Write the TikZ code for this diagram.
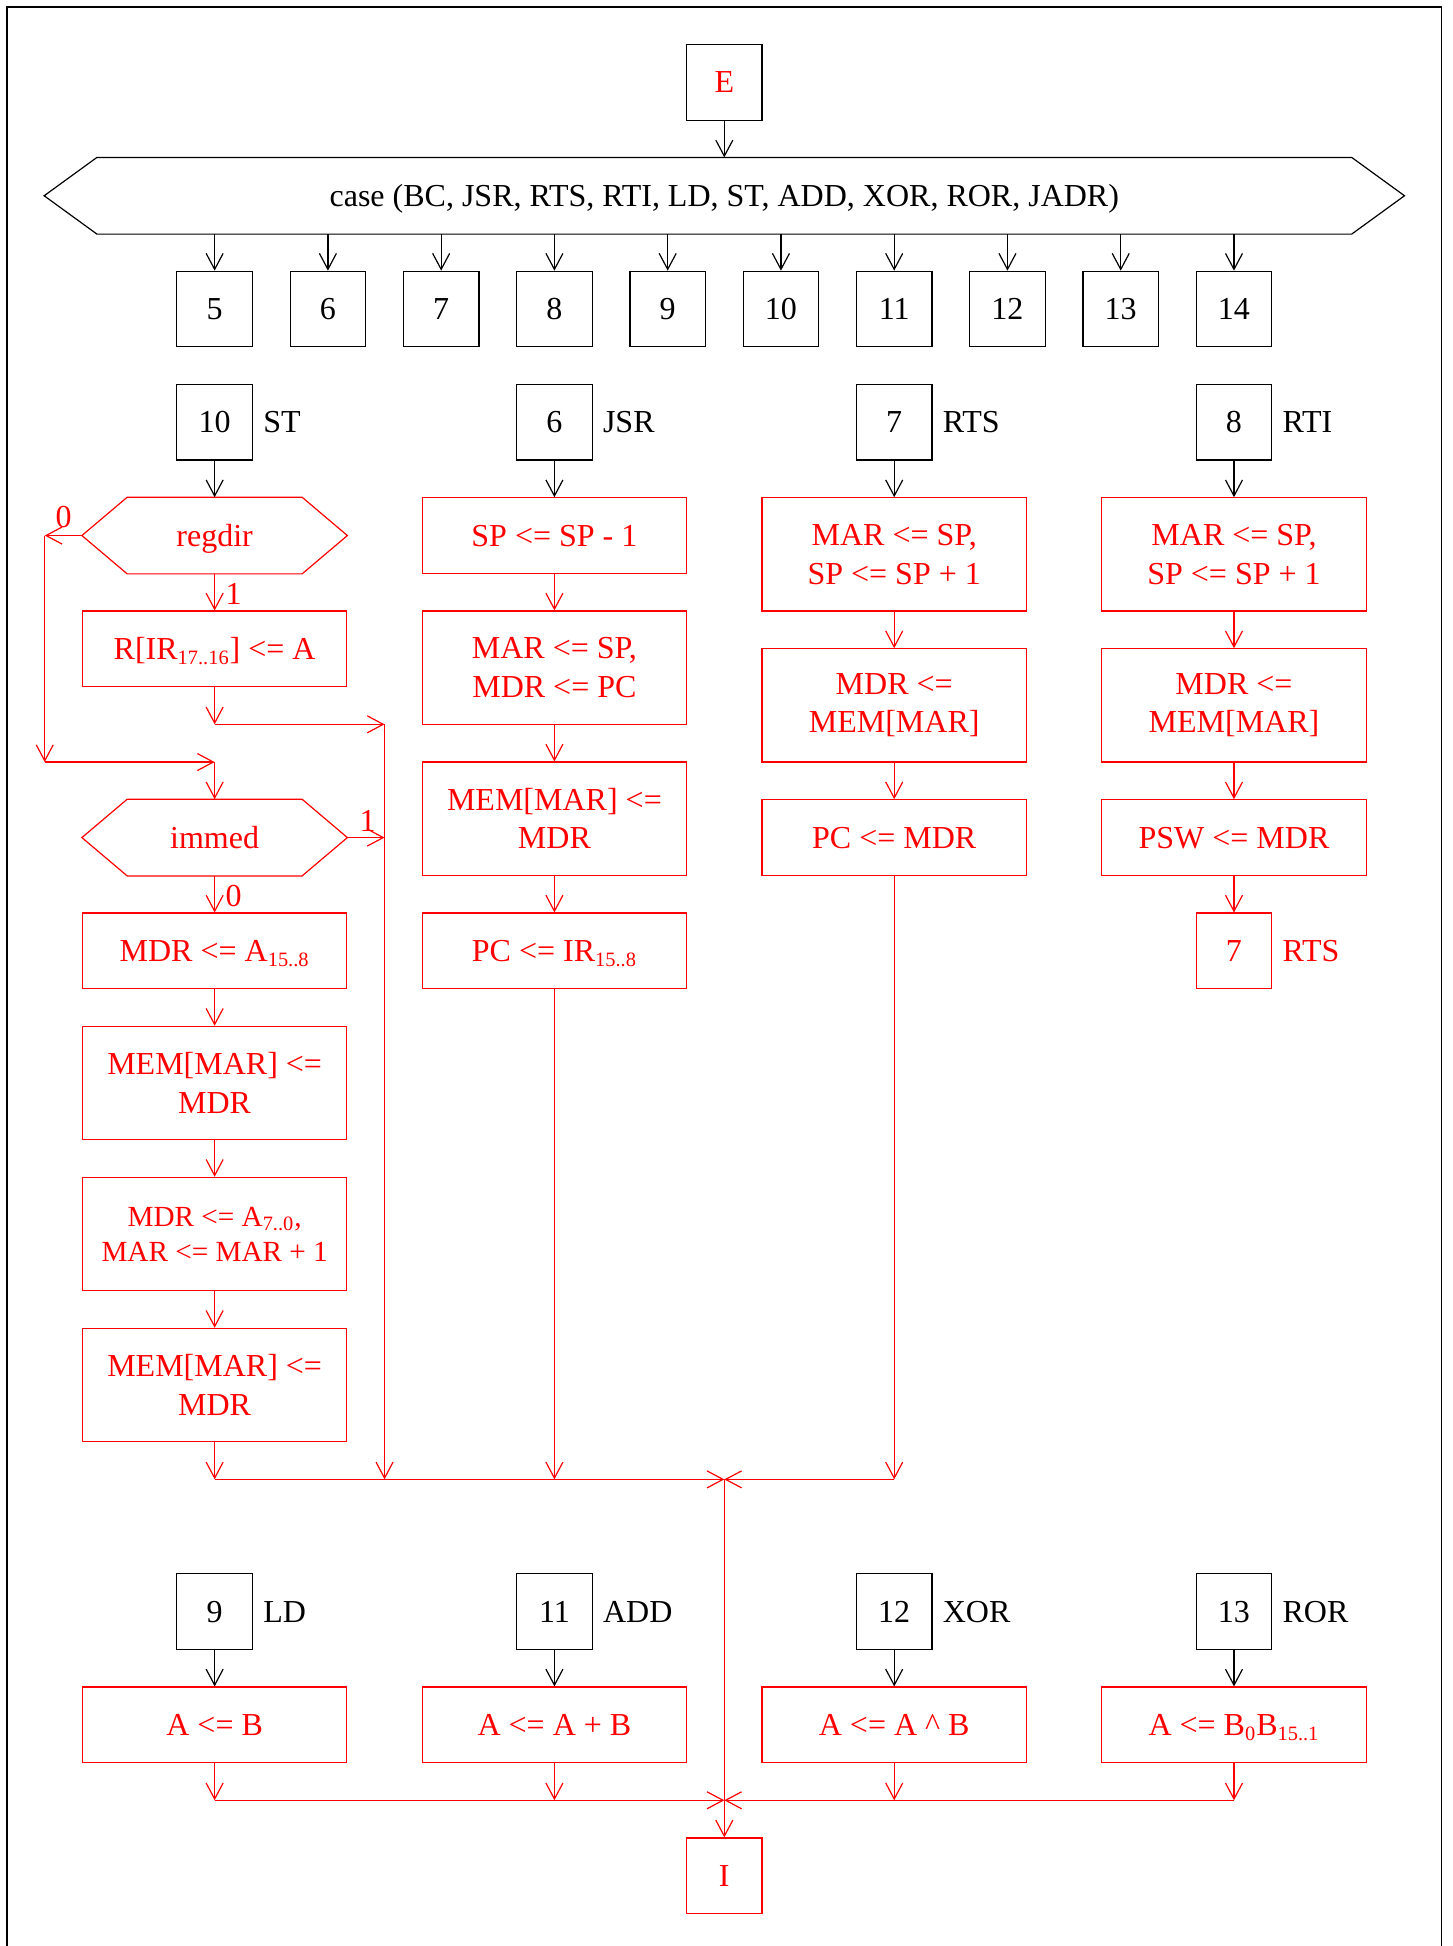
\documentclass[tikz,border=0pt]{standalone}
\usepackage{fontspec}
\setmainfont{Liberation Serif}
\usetikzlibrary{arrows.meta,positioning}

\newcommand{\hexshape}[3]{\draw[#1] (#2.west) -- ([xshift=#3]#2.north west) -- ([xshift=-#3]#2.north east) -- (#2.east) -- ([xshift=-#3]#2.south east) -- ([xshift=#3]#2.south west) -- cycle;}
\newcommand{\subtxt}[1]{\textsubscript{\fontsize{10.2}{12}\selectfont #1}}

\begin{document}
\begin{tikzpicture}[x=18.875pt,y=-18.875pt,line width=0.6pt,
  font=\fontsize{16}{19.2}\selectfont,
  arr/.style={-{Straight Barb[length=8pt,width=8.5pt]}},
  rarr/.style={arr,draw=red},
  onel/.style={text height=10.5pt,text depth=0pt},
  sbox/.style={draw,onel,minimum width=37.75pt,minimum height=37.75pt,inner sep=0pt},
  rsbox/.style={sbox,draw=red,text=red},
  bbox/.style={draw=red,text=red,align=center,minimum width=132.125pt,inner sep=0pt},
  wbox/.style={bbox,onel,minimum height=37.75pt},
  tbox/.style={bbox,minimum height=56.625pt},
  hbox/.style={text=red,onel,minimum width=132.125pt,minimum height=37.75pt,inner sep=0pt},
  side/.style={onel},
  rlbl/.style={text=red}]
\useasboundingbox (-0.1854,-0.1854) rectangle (38.28,51.36);
\draw[line width=0.8pt] (0,51.36) -- (0,0) -- (38,0) -- (38,51.36);

\node[sbox,text=red] (E) at (19,2) {E};
\node[onel,minimum width=679.5pt,minimum height=37.75pt,inner sep=0pt] (case) at (19,5) {case (BC, JSR, RTS, RTI, LD, ST, ADD, XOR, ROR, JADR)};
\hexshape{}{case}{26.4pt}
\draw[arr] (E) -- (case);

\node[sbox] (n5) at (5.5,8) {5};
\node[sbox] (n6) at (8.5,8) {6};
\node[sbox] (n7) at (11.5,8) {7};
\node[sbox] (n8) at (14.5,8) {8};
\node[sbox] (n9) at (17.5,8) {9};
\node[sbox] (n10) at (20.5,8) {10};
\node[sbox] (n11) at (23.5,8) {11};
\node[sbox] (n12) at (26.5,8) {12};
\node[sbox] (n13) at (29.5,8) {13};
\node[sbox] (n14) at (32.5,8) {14};
\draw[arr] (case.south -| n5) -- (n5);
\draw[arr] (case.south -| n6) -- (n6);
\draw[arr] (case.south -| n7) -- (n7);
\draw[arr] (case.south -| n8) -- (n8);
\draw[arr] (case.south -| n9) -- (n9);
\draw[arr] (case.south -| n10) -- (n10);
\draw[arr] (case.south -| n11) -- (n11);
\draw[arr] (case.south -| n12) -- (n12);
\draw[arr] (case.south -| n13) -- (n13);
\draw[arr] (case.south -| n14) -- (n14);

\node[sbox] (h10) at (5.5,11) {10};
\node[side,right=1.5pt of h10] (l10) {ST};
\node[sbox] (h6) at (14.5,11) {6};
\node[side,right=1.5pt of h6] (l6) {JSR};
\node[sbox] (h7) at (23.5,11) {7};
\node[side,right=1.5pt of h7] (l7) {RTS};
\node[sbox] (h8) at (32.5,11) {8};
\node[side,right=1.5pt of h8] (l8) {RTI};

\node[hbox] (regdir) at (5.5,14) {regdir};
\hexshape{red}{regdir}{22.65pt}
\node[wbox] (s1) at (5.5,17) {R[IR\subtxt{17..16}] <= A};
\node[hbox] (immed) at (5.5,22) {immed};
\hexshape{red}{immed}{22.65pt}
\node[wbox] (s2) at (5.5,25) {MDR <= A\subtxt{15..8}};
\node[tbox] (s3) at (5.5,28.5) {MEM[MAR] <=\\MDR};
\node[tbox,font=\fontsize{14.6}{17.6}\selectfont] (s4) at (5.5,32.5) {MDR <= A\subtxt{7..0},\\MAR <= MAR + 1};
\node[tbox] (s5) at (5.5,36.5) {MEM[MAR] <=\\MDR};
\coordinate (lp1) at (1,14);
\coordinate (lp2) at (1,20);
\coordinate (lp3) at (5.5,20);
\coordinate (rj1) at (5.5,19);
\coordinate (rj2) at (10,19);
\coordinate (rj3) at (10,22);
\coordinate (rj4) at (10,39);
\node[rlbl] (z1) at (1.5,13.5) {0};
\node[rlbl] (o1) at (6,15.55) {1};
\node[rlbl] (o2) at (9.55,21.55) {1};
\node[rlbl] (z2) at (6,23.55) {0};
\draw[arr] (h10) -- (regdir);
\draw[rarr] (regdir) -- (lp1);
\draw[rarr] (lp1) -- (lp2);
\draw[rarr] (lp2) -- (lp3);
\draw[rarr] (lp3) -- (immed);
\draw[rarr] (regdir) -- (s1);
\draw[rarr] (s1) -- (rj1);
\draw[rarr] (rj1) -- (rj2);
\draw[rarr] (rj2) -- (rj4);
\draw[rarr] (immed) -- (rj3);
\draw[rarr] (immed) -- (s2);
\draw[rarr] (s2) -- (s3);
\draw[rarr] (s3) -- (s4);
\draw[rarr] (s4) -- (s5);

\node[wbox] (j1) at (14.5,14) {SP <= SP - 1};
\node[tbox] (j2) at (14.5,17.5) {MAR <= SP,\\MDR <= PC};
\node[tbox] (j3) at (14.5,21.5) {MEM[MAR] <=\\MDR};
\node[wbox] (j4) at (14.5,25) {PC <= IR\subtxt{15..8}};
\draw[arr] (h6) -- (j1);
\draw[rarr] (j1) -- (j2);
\draw[rarr] (j2) -- (j3);
\draw[rarr] (j3) -- (j4);

\node[tbox] (r1) at (23.5,14.5) {MAR <= SP,\\SP <= SP + 1};
\node[tbox] (r2) at (23.5,18.5) {MDR <=\\MEM[MAR]};
\node[wbox] (r3) at (23.5,22) {PC <= MDR};
\draw[arr] (h7) -- (r1);
\draw[rarr] (r1) -- (r2);
\draw[rarr] (r2) -- (r3);

\node[tbox] (t1) at (32.5,14.5) {MAR <= SP,\\SP <= SP + 1};
\node[tbox] (t2) at (32.5,18.5) {MDR <=\\MEM[MAR]};
\node[wbox] (t3) at (32.5,22) {PSW <= MDR};
\node[rsbox] (t4) at (32.5,25) {7};
\node[side,rlbl,right=1.5pt of t4] (l4) {RTS};
\draw[arr] (h8) -- (t1);
\draw[rarr] (t1) -- (t2);
\draw[rarr] (t2) -- (t3);
\draw[rarr] (t3) -- (t4);

\coordinate (m1) at (19,39);
\coordinate (ma) at (5.5,39);
\coordinate (mb) at (14.5,39);
\coordinate (mc) at (23.5,39);
\draw[rarr] (s5) -- (ma);
\draw[rarr] (j4) -- (mb);
\draw[rarr] (r3) -- (mc);
\draw[rarr] (ma) -- (m1);
\draw[rarr] (mc) -- (m1);

\node[sbox] (h9) at (5.5,42.5) {9};
\node[side,right=1.5pt of h9] (l9) {LD};
\node[sbox] (h11) at (14.5,42.5) {11};
\node[side,right=1.5pt of h11] (l11) {ADD};
\node[sbox] (h12) at (23.5,42.5) {12};
\node[side,right=1.5pt of h12] (l12) {XOR};
\node[sbox] (h13) at (32.5,42.5) {13};
\node[side,right=1.5pt of h13] (l13) {ROR};
\node[wbox] (b1) at (5.5,45.5) {A <= B};
\node[wbox] (b2) at (14.5,45.5) {A <= A + B};
\node[wbox] (b3) at (23.5,45.5) {A <= A \textasciicircum{} B};
\node[wbox] (b4) at (32.5,45.5) {A <= B\subtxt{0}B\subtxt{15..1}};
\draw[arr] (h9) -- (b1);
\draw[arr] (h11) -- (b2);
\draw[arr] (h12) -- (b3);
\draw[arr] (h13) -- (b4);

\coordinate (m2) at (19,47.5);
\coordinate (pa) at (5.5,47.5);
\coordinate (pb) at (14.5,47.5);
\coordinate (pc) at (23.5,47.5);
\coordinate (pd) at (32.5,47.5);
\draw[rarr] (b1) -- (pa);
\draw[rarr] (b2) -- (pb);
\draw[rarr] (b3) -- (pc);
\draw[rarr] (b4) -- (pd);
\draw[rarr] (pa) -- (m2);
\draw[rarr] (pd) -- (m2);

\node[rsbox] (I) at (19,49.5) {I};
\draw[rarr] (m1) -- (I);
\end{tikzpicture}
\end{document}
